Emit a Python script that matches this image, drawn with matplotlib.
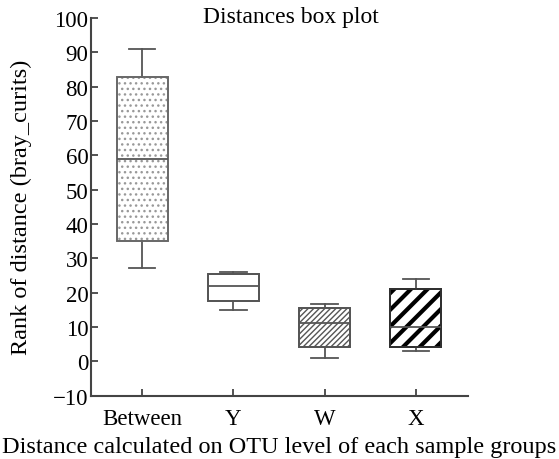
import matplotlib
matplotlib.use("Agg")
import matplotlib.pyplot as plt

plt.rcParams['font.family'] = ['Liberation Serif', 'DejaVu Serif']

# box statistics
groups = ['Between', 'Y', 'W', 'X']
whislo = [27, 15, 1, 3]
q1 = [35, 17.5, 4.2, 4.2]
med = [59, 21.8, 11, 10]
q3 = [82.7, 25.3, 15.5, 21]
whishi = [90.8, 26, 16.8, 23.8]

hatches = ['...', '', '//////', '//']
edge_cols = ['#666666', '#555555', '#555555', '#333333']
hatch_cols = ['#999999', '#555555', '#555555', '#000000']
hatch_lw = [1.0, 1.0, 1.0, 3.0]

stats = [dict(label=g, whislo=a, q1=b, med=c, q3=d, whishi=e)
         for g, a, b, c, d, e in zip(groups, whislo, q1, med, q3, whishi)]

fig = plt.figure(figsize=(5.59, 4.60), dpi=100)
ax = fig.add_axes([0.163, 0.138, 0.674, 0.821])

bp = ax.bxp(stats, showfliers=False, patch_artist=True, widths=0.56,
            boxprops=dict(linewidth=1.3),
            whiskerprops=dict(color='#555555', linewidth=1.3),
            capprops=dict(color='#555555', linewidth=1.3),
            medianprops=dict(color='#555555', linewidth=1.3),
            capwidths=0.29)

for patch, h, ec, hc, hlw in zip(bp['boxes'], hatches, edge_cols, hatch_cols, hatch_lw):
    patch.set_facecolor('white')
    patch.set_hatch(h)
    patch.set_edgecolor(hc)
    if hasattr(patch, 'set_hatch_linewidth'):
        patch.set_hatch_linewidth(hlw)
    # outline drawn on top in box colour
    ax.add_patch(plt.Polygon(patch.get_path().vertices, closed=True, fill=False,
                             edgecolor=ec, linewidth=1.3, zorder=patch.get_zorder() + 0.1))
for m in bp['medians']:
    m.set_zorder(5)

ax.set_xlim(0.44, 4.57)
ax.set_ylim(-10, 100)
ax.set_yticks(range(-10, 101, 10))
ax.set_yticklabels(['\u221210'] + [str(v) for v in range(0, 101, 10)])
ax.spines['top'].set_visible(False)
ax.spines['right'].set_visible(False)
for s in ['left', 'bottom']:
    ax.spines[s].set_color('#444444')
    ax.spines[s].set_linewidth(1.5)
ax.tick_params(direction='in', length=5, width=1.3, color='#444444', labelsize=16.5)
ax.tick_params(axis='x', pad=9)
ax.tick_params(axis='y', pad=2)

ax.set_ylabel('Rank of distance (bray_curits)', fontsize=17.5, labelpad=15)
ax.set_xlabel('Distance calculated on OTU level of each sample groups', fontsize=17.5, labelpad=5)
fig.text(291 / 559, 1 - 17 / 460, 'Distances box plot', ha='center', va='center', fontsize=17)

fig.savefig('out.png', dpi=100)
